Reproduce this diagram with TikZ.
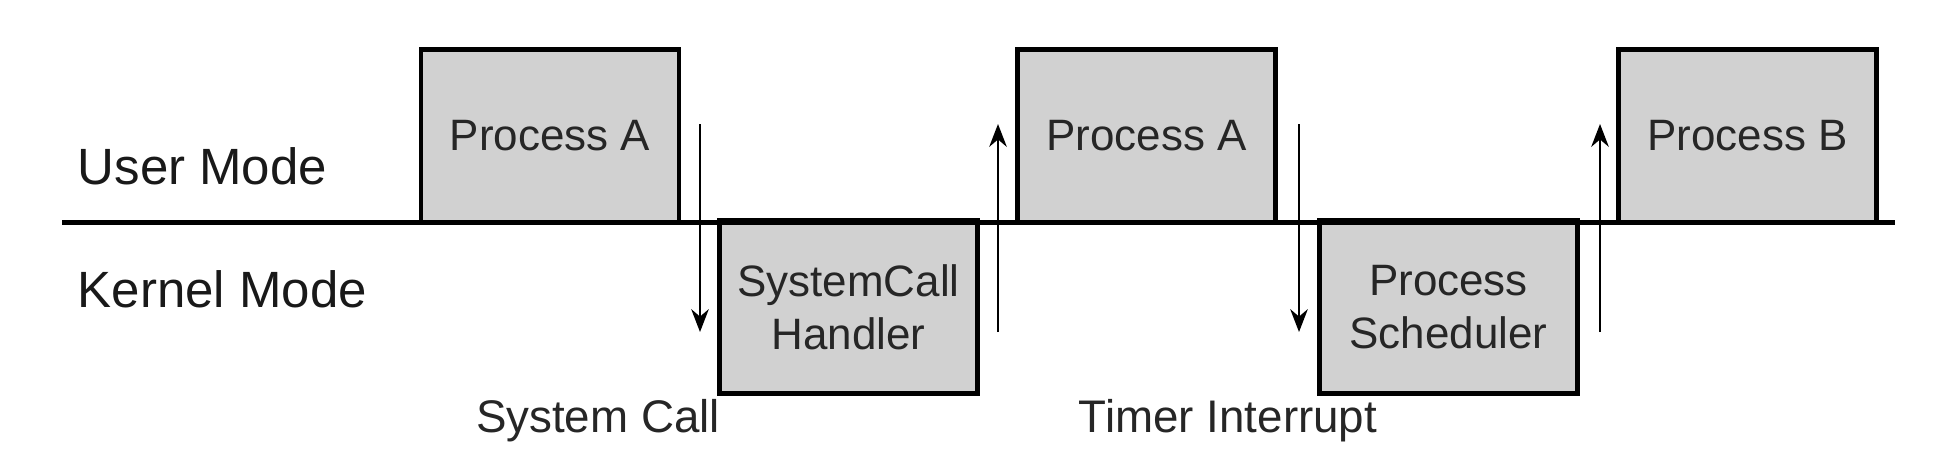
\documentclass[tikz,border=0pt]{standalone}
\usepackage{fontspec}
\setmainfont{Liberation Sans}
\usetikzlibrary{arrows.meta}
\tikzset{
  procbox/.style={rectangle, draw, line width=1.2pt, fill=black!18, minimum width=2.58cm, minimum height=1.73cm, inner sep=0pt, align=center, font=\fontsize{12.5}{15}\selectfont, text=black!85},
  modelabel/.style={anchor=base west, inner sep=0pt, font=\fontsize{14.5}{17}\selectfont, text=black!90},
  eventlabel/.style={anchor=base, inner sep=0pt, font=\fontsize{13}{15}\selectfont, text=black!85},
  switcharrow/.style={-{Stealth[length=6.5pt,width=5pt]}, line width=0.6pt}
}
\begin{document}
\begin{tikzpicture}[x=0.01cm, y=-0.01cm]
  \useasboundingbox (0,0) rectangle (1940,454);

  % modes
  \node[modelabel] (user) at (77,184) {User Mode};
  \node[modelabel] (kernel) at (77,307) {Kernel Mode};

  % running code, user side up, kernel side down
  \node[procbox] (pa1) at (550,136) {Process A};
  \node[procbox] (sch) at (848.5,307) {SystemCall\\Handler};
  \node[procbox] (pa2) at (1146.5,136) {Process A};
  \node[procbox] (ps) at (1448.5,307) {Process\\Scheduler};
  \node[procbox] (pb) at (1747.5,136) {Process B};

  \coordinate (ul) at (62,222.5);
  \coordinate (ur) at (1895,222.5);
  \draw[line width=1.2pt] (ul) -- (ur);

  % mode switches
  \foreach \name/\xpos in {sc/700, ret/998, ti/1299, sw/1600} {
    \coordinate (\name-top) at (\xpos,124);
    \coordinate (\name-bot) at (\xpos,332);
  }
  \draw[switcharrow] (sc-top) -- (sc-bot);
  \draw[switcharrow] (ret-bot) -- (ret-top);
  \draw[switcharrow] (ti-top) -- (ti-bot);
  \draw[switcharrow] (sw-bot) -- (sw-top);

  \node[eventlabel] (sclabel) at (598,432) {System Call};
  \node[eventlabel] (tilabel) at (1228,432) {Timer Interrupt};
\end{tikzpicture}
\end{document}
